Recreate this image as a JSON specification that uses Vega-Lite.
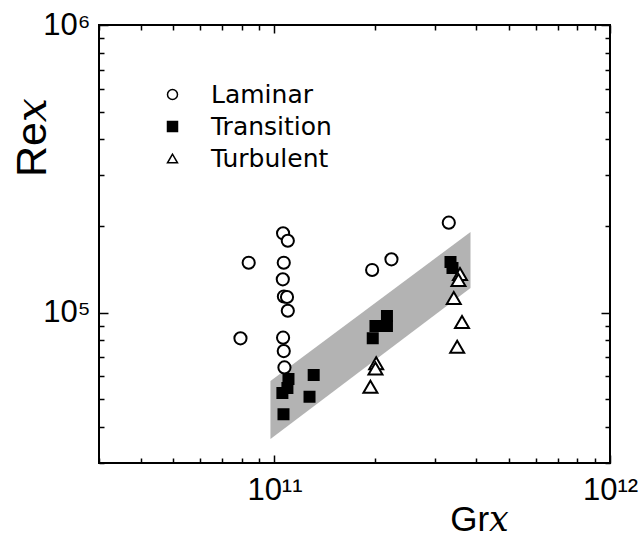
{
  "$schema": "https://vega.github.io/schema/vega-lite/v6.json",
  "width": 511,
  "height": 438,
  "autosize": {"type": "none"},
  "padding": {"left": 99, "top": 25, "right": 30, "bottom": 74},
  "background": "white",
  "config": {
    "view": {"stroke": "black", "strokeWidth": 2},
    "axis": {
      "grid": false,
      "domain": false,
      "labelFont": "Liberation Sans",
      "labelFontSize": 31,
      "labelColor": "black",
      "labelOverlap": false,
      "labelFlush": false,
      "labelBound": false,
      "tickColor": "black",
      "tickWidth": 1.5,
      "titleColor": "black",
      "titleFont": "Liberation Sans, DejaVu Serif",
      "titleFontWeight": "normal"
    },
    "legend": {
      "orient": "none",
      "legendX": 61,
      "legendY": 57,
      "padding": 0,
      "title": null,
      "labelFont": "DejaVu Sans",
      "labelFontSize": 25,
      "labelColor": "black",
      "symbolSize": 100,
      "symbolStrokeWidth": 1.5,
      "labelOffset": 26,
      "rowPadding": 6
    }
  },
  "datasets": {
    "band": [
      {"gr": 9.73e10, "lo": 3.636e4, "hi": 5.784e4},
      {"gr": 3.84e11, "lo": 1.218e5, "hi": 1.907e5}
    ],
    "obs": [
      {"regime": "Transition", "gr": 1.101e11, "re": 5.877e4},
      {"regime": "Transition", "gr": 1.093e11, "re": 5.469e4},
      {"regime": "Transition", "gr": 1.056e11, "re": 5.254e4},
      {"regime": "Transition", "gr": 1.309e11, "re": 6.067e4},
      {"regime": "Transition", "gr": 1.272e11, "re": 5.101e4},
      {"regime": "Transition", "gr": 1.064e11, "re": 4.431e4},
      {"regime": "Transition", "gr": 2.0e11, "re": 8.98e4},
      {"regime": "Transition", "gr": 2.164e11, "re": 8.98e4},
      {"regime": "Transition", "gr": 2.164e11, "re": 9.74e4},
      {"regime": "Transition", "gr": 1.963e11, "re": 8.14e4},
      {"regime": "Transition", "gr": 3.347e11, "re": 1.499e5},
      {"regime": "Transition", "gr": 3.393e11, "re": 1.429e5},
      {"regime": "Laminar", "gr": 1.061e11, "re": 1.887e5},
      {"regime": "Laminar", "gr": 1.096e11, "re": 1.778e5},
      {"regime": "Laminar", "gr": 8.38e10, "re": 1.491e5},
      {"regime": "Laminar", "gr": 1.066e11, "re": 1.491e5},
      {"regime": "Laminar", "gr": 1.059e11, "re": 1.305e5},
      {"regime": "Laminar", "gr": 1.067e11, "re": 1.138e5},
      {"regime": "Laminar", "gr": 1.09e11, "re": 1.133e5},
      {"regime": "Laminar", "gr": 1.096e11, "re": 1.015e5},
      {"regime": "Laminar", "gr": 7.92e10, "re": 8.14e4},
      {"regime": "Laminar", "gr": 1.061e11, "re": 8.18e4},
      {"regime": "Laminar", "gr": 1.066e11, "re": 7.35e4},
      {"regime": "Laminar", "gr": 1.071e11, "re": 6.45e4},
      {"regime": "Laminar", "gr": 1.955e11, "re": 1.407e5},
      {"regime": "Laminar", "gr": 2.232e11, "re": 1.532e5},
      {"regime": "Laminar", "gr": 3.308e11, "re": 2.054e5},
      {"regime": "Turbulent", "gr": 2.01e11, "re": 6.664e4},
      {"regime": "Turbulent", "gr": 2.0e11, "re": 6.392e4},
      {"regime": "Turbulent", "gr": 1.932e11, "re": 5.525e4},
      {"regime": "Turbulent", "gr": 3.572e11, "re": 1.362e5},
      {"regime": "Turbulent", "gr": 3.535e11, "re": 1.299e5},
      {"regime": "Turbulent", "gr": 3.423e11, "re": 1.124e5},
      {"regime": "Turbulent", "gr": 3.622e11, "re": 9.275e4},
      {"regime": "Turbulent", "gr": 3.504e11, "re": 7.61e4}
    ]
  },
  "resolve": {"axis": {"x": "independent", "y": "independent"}},
  "layer": [
    {
      "data": {"name": "band"},
      "mark": {"type": "area", "fill": "#b3b3b3", "orient": "vertical"},
      "encoding": {
        "x": {
          "field": "gr",
          "type": "quantitative",
          "scale": {"type": "log", "domain": [3e10, 1e12], "nice": false},
          "axis": {
            "orient": "bottom",
            "values": [3e10, 4e10, 5e10, 6e10, 7e10, 8e10, 9e10, 1e11, 2e11, 3e11, 4e11, 5e11, 6e11, 7e11, 8e11, 9e11, 1e12],
            "labelExpr": "datum.value == 1e11 ? '10¹¹' : datum.value == 1e12 ? '10¹²' : ''",
            "tickSize": {"condition": {"test": "datum.value == 1e11 || datum.value == 1e12", "value": -8}, "value": -5},
            "labelPadding": 20,
            "title": "Gr𝑥",
            "titleFontSize": 35,
            "titleAlign": "center",
            "titleBaseline": "alphabetic",
            "titleX": 380,
            "titleY": 67
          }
        },
        "y": {
          "field": "lo",
          "type": "quantitative",
          "scale": {"type": "log", "domain": [3e4, 1e6], "nice": false},
          "axis": {
            "orient": "left",
            "values": [3e4, 4e4, 5e4, 6e4, 7e4, 8e4, 9e4, 1e5, 2e5, 3e5, 4e5, 5e5, 6e5, 7e5, 8e5, 9e5, 1e6],
            "labelExpr": "datum.value == 1e5 ? '10⁵' : datum.value == 1e6 ? '10⁶' : ''",
            "tickSize": {"condition": {"test": "datum.value == 1e5 || datum.value == 1e6", "value": -9}, "value": -5},
            "labelPadding": 18,
            "labelBaseline": "middle",
            "title": "Re𝑥",
            "titleFontSize": 43,
            "titleAngle": -90,
            "titleAlign": "center",
            "titleBaseline": "alphabetic",
            "titleX": -54,
            "titleY": 112
          }
        },
        "y2": {"field": "hi"}
      }
    },
    {
      "data": {"name": "obs"},
      "mark": {"type": "point", "filled": true, "strokeWidth": 2, "opacity": 1},
      "encoding": {
        "x": {"field": "gr", "type": "quantitative", "axis": null},
        "y": {"field": "re", "type": "quantitative", "axis": null},
        "shape": {
          "field": "regime",
          "type": "nominal",
          "scale": {"domain": ["Laminar", "Transition", "Turbulent"], "range": ["circle", "square", "triangle-up"]}
        },
        "fill": {
          "field": "regime",
          "type": "nominal",
          "scale": {"domain": ["Laminar", "Transition", "Turbulent"], "range": ["white", "black", "white"]}
        },
        "stroke": {
          "field": "regime",
          "type": "nominal",
          "scale": {"domain": ["Laminar", "Transition", "Turbulent"], "range": ["black", "black", "black"]}
        },
        "size": {
          "field": "regime",
          "type": "nominal",
          "scale": {"domain": ["Transition", "Laminar", "Turbulent"], "range": [100, 196]},
          "legend": null
        }
      }
    },
    {
      "data": {"name": "band"},
      "mark": {"type": "point", "opacity": 0},
      "encoding": {
        "x": {
          "field": "gr",
          "type": "quantitative",
          "axis": {
            "orient": "top",
            "values": [3e10, 4e10, 5e10, 6e10, 7e10, 8e10, 9e10, 1e11, 2e11, 3e11, 4e11, 5e11, 6e11, 7e11, 8e11, 9e11, 1e12],
            "labels": false,
            "title": null,
            "tickSize": {"condition": {"test": "datum.value == 1e11 || datum.value == 1e12", "value": -8}, "value": -5}
          }
        },
        "y": {
          "field": "hi",
          "type": "quantitative",
          "axis": {
            "orient": "right",
            "values": [3e4, 4e4, 5e4, 6e4, 7e4, 8e4, 9e4, 1e5, 2e5, 3e5, 4e5, 5e5, 6e5, 7e5, 8e5, 9e5, 1e6],
            "labels": false,
            "title": null,
            "tickSize": {"condition": {"test": "datum.value == 1e5 || datum.value == 1e6", "value": -9}, "value": -5}
          }
        }
      }
    }
  ]
}
